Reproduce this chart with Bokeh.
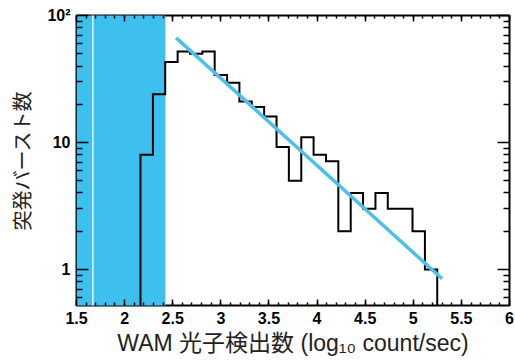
from bokeh.plotting import figure
from bokeh.models import Range1d, FixedTicker, LinearAxis, LogAxis
from bokeh.embed import file_html
from bokeh.resources import INLINE

# ---- data ----
bin_edges = [2.165, 2.294, 2.422, 2.551, 2.679, 2.808, 2.936, 3.065, 3.193,
             3.322, 3.450, 3.579, 3.707, 3.836, 3.964, 4.093, 4.221, 4.350,
             4.478, 4.607, 4.735, 4.864, 4.992, 5.121, 5.249]
counts = [8, 24, 43, 52, 50, 52, 34, 29.5, 21, 19, 16, 9.2, 5, 11, 8, 7.1,
          2, 4, 3, 4, 3, 3, 2, 1]
fit_x = [2.536, 5.30]
fit_y = [66.7, 0.845]
band_x = [1.5, 2.424]
band_marker_x = 1.67

x_ticks = [1.5, 2, 2.5, 3, 3.5, 4, 4.5, 5, 5.5, 6]
x_tick_labels = ["1.5", "2", "2.5", "3", "3.5", "4", "4.5", "5", "5.5", "6"]
x_minor = [round(1.5 + 0.1 * i, 2) for i in range(46)]
y_ticks = [1, 10, 100]
y_tick_labels = ["1", "10", "10²"]
y_minor = [0.6, 0.7, 0.8, 0.9] + [k for k in range(2, 10)] + [10 * k for k in range(2, 10)]

x_label = "WAM 光子検出数 (log₁₀ count/sec)"
y_label = "突発バースト数"

BLUE_FILL = "#3EC0EE"
FIT_BLUE = "#4DC0EA"
LABEL_FONT = "'Liberation Sans', 'Noto Sans CJK JP'"

p = figure(width=515, height=361, x_range=Range1d(1.5, 6),
           y_range=Range1d(0.52, 100), y_axis_type="log",
           output_backend="svg", toolbar_location=None,
           min_border_left=76, min_border_right=6, min_border_top=15,
           min_border_bottom=56)
p.grid.visible = False
p.outline_line_color = "black"
p.outline_line_width = 2
p.background_fill_color = "white"
p.border_fill_color = "white"

floor = 0.1
# shaded band
p.quad(left=band_x[0], right=band_x[1], bottom=floor, top=1000,
       fill_color=BLUE_FILL, line_color=None)
p.segment(x0=band_marker_x, y0=floor, x1=band_marker_x, y1=1000,
          line_color="white", line_width=1.5, line_alpha=0.85)

# histogram outline
xs = [bin_edges[0]]
ys = [floor]
for i, c in enumerate(counts):
    xs += [bin_edges[i], bin_edges[i + 1]]
    ys += [c, c]
xs.append(bin_edges[-1])
ys.append(floor)
p.line(xs, ys, line_color="black", line_width=2, line_join="miter")

# fit line
p.line(fit_x, fit_y, line_color=FIT_BLUE, line_width=3.5)


def style(ax, mt, mnt, labels):
    ax.axis_line_color = None
    ax.major_tick_in = mt
    ax.major_tick_out = 0
    ax.minor_tick_in = mnt
    ax.minor_tick_out = 0
    ax.major_tick_line_width = 1.5
    ax.minor_tick_line_width = 1.5
    ax.major_tick_line_color = "black"
    ax.minor_tick_line_color = "black"
    if labels:
        ax.major_label_text_font = "Liberation Sans"
        ax.major_label_text_font_style = "bold"
        ax.major_label_text_font_size = "16px"
        ax.major_label_text_color = "black"
    else:
        ax.major_label_text_font_size = "1px"
        ax.major_label_text_alpha = 0
        ax.major_label_standoff = 0


xa = p.xaxis[0]
xa.ticker = FixedTicker(ticks=x_ticks, minor_ticks=x_minor)
xa.major_label_overrides = {t: l for t, l in zip(x_ticks, x_tick_labels)}
style(xa, 6, 3, True)
xa.major_label_standoff = 6
xa.axis_label = x_label
xa.axis_label_text_font = LABEL_FONT
xa.axis_label_text_font_style = "normal"
xa.axis_label_text_font_size = "23px"
xa.axis_label_standoff = 3
xa.axis_label_text_color = "#222222"

ya = p.yaxis[0]
ya.ticker = FixedTicker(ticks=y_ticks, minor_ticks=y_minor)
ya.major_label_overrides = {t: l for t, l in zip(y_ticks, y_tick_labels)}
style(ya, 12, 6, True)
ya.major_label_standoff = 6
ya.axis_label = y_label
ya.axis_label_text_font = "Noto Sans CJK JP"
ya.axis_label_text_font_style = "normal"
ya.axis_label_text_font_size = "20px"
ya.axis_label_standoff = 8
ya.axis_label_text_color = "#222222"

top = LinearAxis(ticker=FixedTicker(ticks=x_ticks, minor_ticks=x_minor))
style(top, 6, 3, False)
p.add_layout(top, "above")

right = LogAxis(ticker=FixedTicker(ticks=y_ticks, minor_ticks=y_minor))
style(right, 12, 6, False)
p.add_layout(right, "right")

open("out.html", "w").write(file_html(p, INLINE))
